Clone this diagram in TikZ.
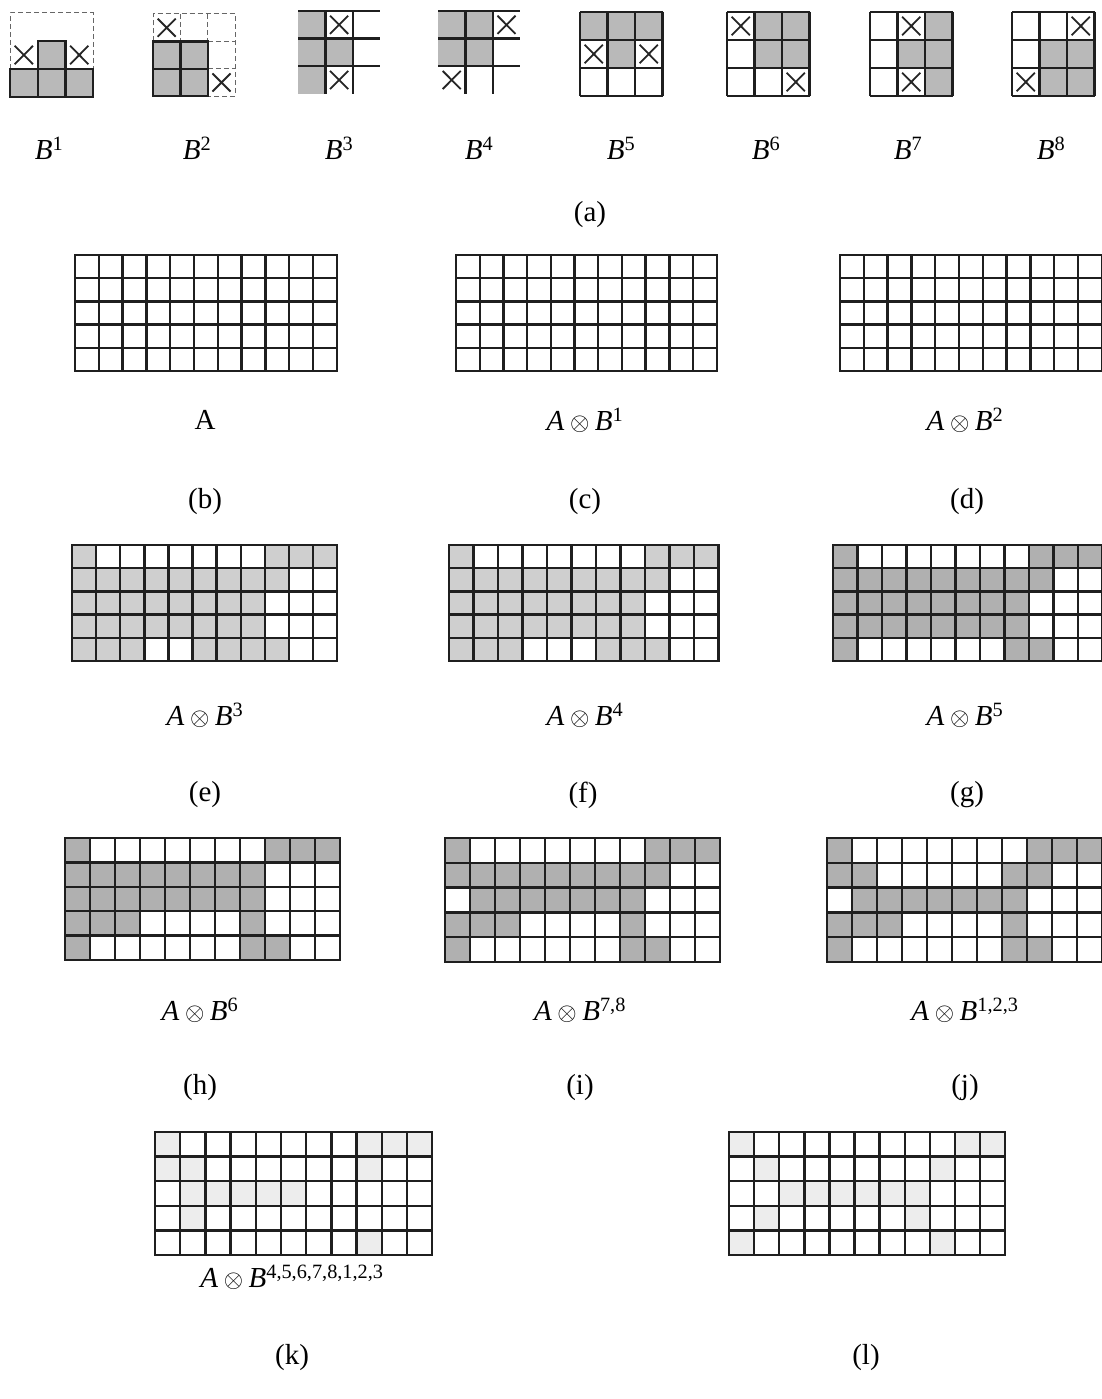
\documentclass[tikz,border=0pt]{standalone}
\usepackage{fontspec}
\setmainfont{Liberation Serif}
\usetikzlibrary{positioning}

% one 11x5 result grid: name, top-left, cell width, cell height, fill, shaded row/{cols}
\newcommand{\cellgrid}[6]{%
  \coordinate (#1) at (#2);
  \begin{scope}[shift={(#1)}, x=#3pt, y=-#4pt]
    \foreach \r/\cs in {#6}{\foreach \c in \cs {\fill[#5] (\c-1,\r-1) rectangle (\c,\r);}}
    \foreach \i in {0,...,11} \draw[gridline] (\i,0) -- (\i,5);
    \foreach \j in {0,...,5} \draw[gridline] (0,\j) -- (11,\j);
  \end{scope}}
% cross in cell (col,row) of a 3x3 element
\newcommand{\crosscell}[2]{%
  \draw[xline] (#1+0.17,#2+0.17) -- (#1+0.83,#2+0.83) (#1+0.83,#2+0.17) -- (#1+0.17,#2+0.83);}

\begin{document}
\begin{tikzpicture}[
  x=1pt, y=-1pt,
  every node/.style={text=black},
  lbl/.style={font=\fontsize{29}{34}\selectfont, inner sep=0pt},
  gridline/.style={black!88, line width=2.4pt, line cap=rect},
  seline/.style={black!88, line width=2.4pt},
  dashline/.style={black!60, line width=1.0pt, dash pattern=on 5pt off 3pt},
  xline/.style={black!85, line width=1.8pt},
  seshade/.style={fill=gray!55},
  shadeL/.style={fill=gray!38},
  shadeD/.style={fill=gray!62},
  shadeF/.style={fill=gray!14},
]
\useasboundingbox (0,0) rectangle (1101,1399);

% ── (a) structuring elements B^1 ... B^8 ──
% B1
\begin{scope}[shift={(10,13)}, x=27.7pt, y=-28pt]
  \coordinate (se1) at (0,0);
  \fill[seshade] (1,1) rectangle (2,2) (0,2) rectangle (3,3);
  \draw[dashline] (0,2) -- (0,0) -- (3,0) -- (3,2);
  \draw[seline] (0,2) rectangle (3,3) (1,2) -- (1,3) (2,2) -- (2,3) (1,1) rectangle (2,2);
  \crosscell{0}{1} \crosscell{2}{1}
\end{scope}
% B2
\begin{scope}[shift={(153,14)}, x=27.4pt, y=-27.4pt]
  \coordinate (se2) at (0,0);
  \fill[seshade] (0,1) rectangle (2,3);
  \draw[dashline] (0,1) -- (0,0) -- (3,0) -- (3,3) -- (2,3) (1,0) -- (1,1) (2,0) -- (2,1) (2,1) -- (3,1) (2,2) -- (3,2);
  \draw[seline] (0,1) rectangle (2,3) (1,1) -- (1,3) (0,2) -- (2,2);
  \crosscell{0}{0} \crosscell{2}{2}
\end{scope}
% B3
\begin{scope}[shift={(298,11)}, x=27.4pt, y=-27.6pt]
  \coordinate (se3) at (0,0);
  \fill[seshade] (0,0) rectangle (1,3) (1,1) rectangle (2,2);
  \foreach \j in {0,1,2} \draw[seline] (0,\j) -- (3,\j);
  \foreach \i in {1,2} \draw[seline] (\i,0) -- (\i,3);
  \crosscell{1}{0} \crosscell{1}{2}
\end{scope}
% B4
\begin{scope}[shift={(438,11)}, x=27.4pt, y=-27.6pt]
  \coordinate (se4) at (0,0);
  \fill[seshade] (0,0) rectangle (2,2);
  \foreach \j in {0,1,2} \draw[seline] (0,\j) -- (3,\j);
  \foreach \i in {1,2} \draw[seline] (\i,0) -- (\i,3);
  \crosscell{2}{0} \crosscell{0}{2}
\end{scope}
% B5 -- B8: full 3x3 grids
\foreach \k/\x/\shd/\crs in {5/580/{0/0,1/0,2/0,1/1}/{0/1,2/1},
                             6/727/{1/0,2/0,1/1,2/1}/{0/0,2/2},
                             7/870/{2/0,1/1,2/1,2/2}/{1/0,1/2},
                             8/1012/{1/1,2/1,1/2,2/2}/{2/0,0/2}}{
  \begin{scope}[shift={(\x,12)}, x=27.5pt, y=-28pt]
    \coordinate (se\k) at (0,0);
    \foreach \c/\r in \shd \fill[seshade] (\c,\r) rectangle (\c+1,\r+1);
    \foreach \i in {0,...,3} \draw[seline] (\i,0) -- (\i,3);
    \foreach \j in {0,...,3} \draw[seline] (0,\j) -- (3,\j);
    \foreach \c/\r in \crs {\crosscell{\c}{\r}}
  \end{scope}}

\foreach \k/\x in {1/49,2/197,3/339,4/479,5/621,6/766,7/908,8/1051}
  \node[lbl] (lb\k) at (\x,148) {\textit{B}\textsuperscript{\k}};
\node[lbl] (capa) at (590,215) {(a)};

% ── (b) (c) (d) ──
\cellgrid{gb}{75,255}{23.8}{23.2}{fill=white}{1/1}
\cellgrid{gc}{456,255}{23.7}{23.2}{fill=white}{1/1}
\cellgrid{gd}{840,255}{23.8}{23.2}{fill=white}{1/1}
\node[lbl] (lA) at (205,420) {A};
\node[lbl] (lAB1) at (585,420) {\textit{A}${}\otimes{}$\textit{B}\textsuperscript{1}};
\node[lbl] (lAB2) at (965,420) {\textit{A}${}\otimes{}$\textit{B}\textsuperscript{2}};
\node[lbl] (capb) at (205,502) {(b)};
\node[lbl] (capc) at (585,502) {(c)};
\node[lbl] (capd) at (967,502) {(d)};

% ── (e) (f) (g) ──
\cellgrid{ge}{72,545}{24.1}{23.2}{shadeL}{1/{1,9,10,11},2/{1,...,9},3/{1,...,8},4/{1,...,8},5/{1,2,3,6,7,8,9}}
\cellgrid{gf}{449,545}{24.5}{23.2}{shadeL}{1/{1,9,10,11},2/{1,...,9},3/{1,...,8},4/{1,...,8},5/{1,2,3,7,8,9}}
\cellgrid{gg}{833,545}{24.5}{23.2}{shadeD}{1/{1,9,10,11},2/{1,...,9},3/{1,...,8},4/{1,...,8},5/{1,8,9}}
\node[lbl] (lAB3) at (205,715) {\textit{A}${}\otimes{}$\textit{B}\textsuperscript{3}};
\node[lbl] (lAB4) at (585,715) {\textit{A}${}\otimes{}$\textit{B}\textsuperscript{4}};
\node[lbl] (lAB5) at (965,715) {\textit{A}${}\otimes{}$\textit{B}\textsuperscript{5}};
\node[lbl] (cape) at (205,795) {(e)};
\node[lbl] (capf) at (583,795) {(f)};
\node[lbl] (capg) at (967,795) {(g)};

% ── (h) (i) (j) ──
\cellgrid{gh}{65,838}{25.0}{24.4}{shadeD}{1/{1,9,10,11},2/{1,...,8},3/{1,...,8},4/{1,2,3,8},5/{1,8,9}}
\cellgrid{gi}{445,838}{25.0}{24.8}{shadeD}{1/{1,9,10,11},2/{1,...,9},3/{2,...,8},4/{1,2,3,8},5/{1,8,9}}
\cellgrid{gj}{827,838}{25.0}{24.8}{shadeD}{1/{1,9,10,11},2/{1,2,8,9},3/{2,...,8},4/{1,2,3,8},5/{1,8,9}}
\node[lbl] (lAB6) at (200,1010) {\textit{A}${}\otimes{}$\textit{B}\textsuperscript{6}};
\node[lbl] (lAB78) at (580,1010) {\textit{A}${}\otimes{}$\textit{B}\textsuperscript{7,8}};
\node[lbl] (lAB123) at (965,1010) {\textit{A}${}\otimes{}$\textit{B}\textsuperscript{1,2,3}};
\node[lbl] (caph) at (200,1088) {(h)};
\node[lbl] (capi) at (580,1088) {(i)};
\node[lbl] (capj) at (965,1088) {(j)};

% ── (k) (l) ──
\cellgrid{gk}{155,1132}{25.2}{24.6}{shadeF}{1/{1,9,10,11},2/{1,2,9},3/{2,...,6},4/{2},5/{9}}
\cellgrid{gl}{729,1132}{25.1}{24.6}{shadeF}{1/{1,10,11},2/{2,9},3/{3,...,8},4/{2,8},5/{1,9}}
\node[lbl] (lABall) at (292,1277) {\textit{A}${}\otimes{}$\textit{B}\textsuperscript{4,5,6,7,8,1,2,3}};
\node[lbl] (capk) at (292,1358) {(k)};
\node[lbl] (capl) at (866,1358) {(l)};

\end{tikzpicture}
\end{document}
